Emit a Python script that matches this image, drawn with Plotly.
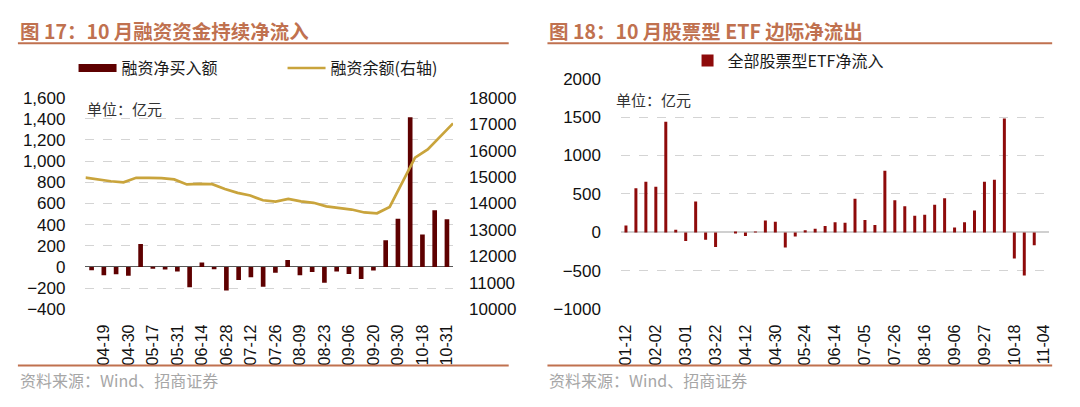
import plotly.graph_objects as go

W, H = 1080, 407

# ---------------- Left chart data (融资) ----------------
margin_dates = ["04-12", "04-19", "04-26", "04-30", "05-10", "05-17", "05-24", "05-31",
                "06-07", "06-14", "06-21", "06-28", "07-05", "07-12", "07-19", "07-26",
                "08-02", "08-09", "08-16", "08-23", "08-30", "09-06", "09-13", "09-20",
                "09-27", "09-30", "10-11", "10-18", "10-25", "10-31"]
margin_net_buy = [-30, -78, -69, -84, 216, -8, -24, -42, -192, 42, -22, -222, -123, -96, -186,
                  -54, 66, -78, -48, -150, -42, -66, -114, -33, 252, 456, 1416, 306, 537, 450]
margin_tick_labels = ["04-19", "04-30", "05-17", "05-31", "06-14", "06-28", "07-12", "07-26",
                      "08-09", "08-23", "09-06", "09-20", "09-30", "10-18", "10-31"]
margin_balance = [14980, 14910, 14840, 14800, 14970, 14970, 14960, 14910, 14720, 14740,
                  14730, 14550, 14400, 14300, 14120, 14070, 14170, 14080, 14025, 13890,
                  13830, 13770, 13660, 13630, 13870, 14820, 15730, 16040, 16550, 17030]
balance_index = list(range(len(margin_balance)))

# ---------------- Right chart data (ETF) ----------------
etf_dates = ["01-12", "01-19", "01-26", "02-02", "02-08", "02-23", "03-01", "03-08", "03-15",
             "03-22", "03-29", "04-03", "04-12", "04-19", "04-26", "04-30", "05-10", "05-17",
             "05-24", "05-31", "06-07", "06-14", "06-21", "06-28", "07-05", "07-12", "07-19",
             "07-26", "08-02", "08-09", "08-16", "08-23", "08-30", "09-06", "09-13", "09-20",
             "09-27", "09-30", "10-11", "10-18", "10-25", "11-01", "11-04"]
etf_net_inflow = [90, 573, 660, 593, 1440, 35, -112, 403, -95, -191, 0, -8, -46, 8, 154, 137,
                  -195, -54, 29, 48, 83, 133, 125, 436, 162, 95, 801, 419, 340, 216, 228, 361,
                  444, 62, 133, 286, 660, 685, 1482, -340, -560, -166, None]
etf_tick_labels = ["01-12", "02-02", "03-01", "03-22", "04-12", "04-30", "05-24", "06-14",
                   "07-05", "07-26", "08-16", "09-06", "09-27", "10-18", "11-04"]

# ---------------- styling ----------------
FONT = "Liberation Sans, Arial, Noto Sans CJK SC, sans-serif"
CJK = "Noto Sans CJK SC, Liberation Sans, sans-serif"
TITLE_COLOR = "#C0714F"
GRID = "#D4D4D4"
BAR_L = "#5E0000"
BAR_R = "#8E0A0A"
LINE_C = "#C9A43C"


def px(x):
    return x / W


def py(y):
    return 1 - y / H


fig = go.Figure()

# legend proxy so that the bar key is drawn as a wide flat block, as in the original
fig.add_trace(go.Scatter(
    x=[None], y=[None], name="融资净买入额", mode="lines",
    line=dict(color=BAR_L, width=8), legendgroup="netbuy",
    xaxis="x", yaxis="y", legend="legend", hoverinfo="skip",
))
fig.add_trace(go.Bar(
    x=margin_dates, y=margin_net_buy, name="融资净买入额",
    marker=dict(color=BAR_L, line=dict(width=0)), width=0.38,
    xaxis="x", yaxis="y", legendgroup="netbuy", showlegend=False,
))
fig.add_trace(go.Scatter(
    x=balance_index, y=margin_balance, name="融资余额(右轴)", mode="lines",
    line=dict(color=LINE_C, width=2.7),
    xaxis="x3", yaxis="y2", legend="legend",
))
fig.add_trace(go.Bar(
    x=etf_dates, y=etf_net_inflow, name="全部股票型ETF净流入",
    marker=dict(color=BAR_R, line=dict(width=0)), width=0.3,
    xaxis="x4", yaxis="y4", legend="legend2",
))

# geometry (pixels)
L_X0, L_X1, L_Y0, L_Y1 = 82, 452, 93, 315
R_X0, R_X1, R_Y0, R_Y1 = 621, 1052, 73, 315
R_YMIN, R_YMAX = -1000, 2000
zero_pos = py(R_Y1) + (0 - R_YMIN) / (R_YMAX - R_YMIN) * (py(R_Y0) - py(R_Y1))

tickfont = dict(family=FONT, size=17, color="#111111")
xtickfont = dict(family=FONT, size=16, color="#111111")

fig.update_layout(
    width=W, height=H, margin=dict(l=0, r=0, t=0, b=0),
    paper_bgcolor="white", plot_bgcolor="rgba(0,0,0,0)",
    xaxis=dict(domain=[px(L_X0), px(L_X1)], anchor="y", type="category",
               categoryorder="array", categoryarray=margin_dates,
               range=[-0.5, len(margin_dates) - 0.5],
               tickmode="array", tickvals=margin_tick_labels, ticktext=margin_tick_labels,
               tickangle=-90, tickfont=xtickfont, showgrid=False, showline=False,
               ticks="", ticklabelstandoff=11),
    yaxis=dict(domain=[py(L_Y1), py(L_Y0)], anchor="x", range=[-400, 1600], dtick=200,
               tickformat=",", tickfont=tickfont, showgrid=True, gridcolor=GRID,
               griddash="dash", gridwidth=1, zeroline=True, zerolinecolor="#595959",
               zerolinewidth=1, showline=False, ticks="", ticklabelstandoff=19),
    yaxis2=dict(overlaying="y", side="right", anchor="x", range=[10000, 18000], dtick=1000,
                tickformat="d", tickfont=tickfont, showgrid=False, zeroline=False,
                showline=False, ticks="", ticklabelstandoff=15),
    xaxis3=dict(overlaying="x", anchor="y2", range=[0, len(margin_balance) - 1],
                visible=False, showgrid=False, zeroline=False),
    xaxis4=dict(domain=[px(R_X0), px(R_X1)], anchor="y4", type="category",
                categoryorder="array", categoryarray=etf_dates,
                range=[-0.5, len(etf_dates) - 0.5],
                tickmode="array", tickvals=etf_tick_labels, ticktext=etf_tick_labels,
                tickangle=-90, tickfont=xtickfont, showgrid=False, showline=False,
                ticks="", ticklabelstandoff=11),
    yaxis4=dict(domain=[py(R_Y1), py(R_Y0)], anchor="x4", range=[R_YMIN, R_YMAX], dtick=500,
                tickformat="d", tickfont=tickfont, showgrid=True, gridcolor=GRID,
                griddash="dash", gridwidth=1, zeroline=True, zerolinecolor="#D0D0D0",
                zerolinewidth=1.5, showline=False, ticks="", ticklabelstandoff=19),
    xaxis5=dict(overlaying="x4", anchor="free", position=zero_pos, type="linear",
                range=[-0.5, len(etf_dates) - 0.5], tickmode="linear", tick0=-0.5, dtick=1,
                ticks="outside", ticklen=4, tickcolor="#D0D0D0", tickwidth=1,
                showticklabels=False, showgrid=False, zeroline=False, showline=False),
    legend=dict(orientation="h", x=px(70), y=py(62), xanchor="left", yanchor="middle",
                font=dict(family=CJK, size=16, color="#1a1a1a"), bgcolor="rgba(0,0,0,0)",
                entrywidth=156, entrywidthmode="pixels", itemwidth=38, tracegroupgap=0),
    legend2=dict(orientation="h", x=px(688), y=py(54), xanchor="left", yanchor="middle",
                 font=dict(family=CJK, size=16, color="#1a1a1a"), bgcolor="rgba(0,0,0,0)"),
    showlegend=True,
)

annotations = [
    dict(text="<b>图 17：10 月融资资金持续净流入</b>", x=px(14), y=py(23), xanchor="left",
         yanchor="middle", font=dict(family=CJK, size=19.5, color=TITLE_COLOR)),
    dict(text="<b>图 18：10 月股票型 ETF 边际净流出</b>", x=px(547), y=py(23), xanchor="left",
         yanchor="middle", font=dict(family=CJK, size=19.5, color=TITLE_COLOR)),
    dict(text="单位：亿元", x=px(82), y=py(104), xanchor="left", yanchor="middle",
         font=dict(family=CJK, size=15, color="#333333")),
    dict(text="单位：亿元", x=px(614), y=py(95), xanchor="left", yanchor="middle",
         font=dict(family=CJK, size=15, color="#333333")),
    dict(text="资料来源：Wind、招商证券", x=px(14), y=py(389), xanchor="left", yanchor="middle",
         font=dict(family=CJK, size=16, color="#A6A6A6")),
    dict(text="资料来源：Wind、招商证券", x=px(547), y=py(389), xanchor="left", yanchor="middle",
         font=dict(family=CJK, size=16, color="#A6A6A6")),
]
for a in annotations:
    a.update(xref="paper", yref="paper", showarrow=False)
fig.update_layout(annotations=annotations)

shapes = []
for x0, x1 in [(14, 508), (547, 1055)]:
    for yy in (36, 374):
        shapes.append(dict(type="line", xref="paper", yref="paper", x0=px(x0), x1=px(x1),
                           y0=py(yy), y1=py(yy), line=dict(color=TITLE_COLOR, width=2)))
fig.update_layout(shapes=shapes)

fig.write_html("out.html")
